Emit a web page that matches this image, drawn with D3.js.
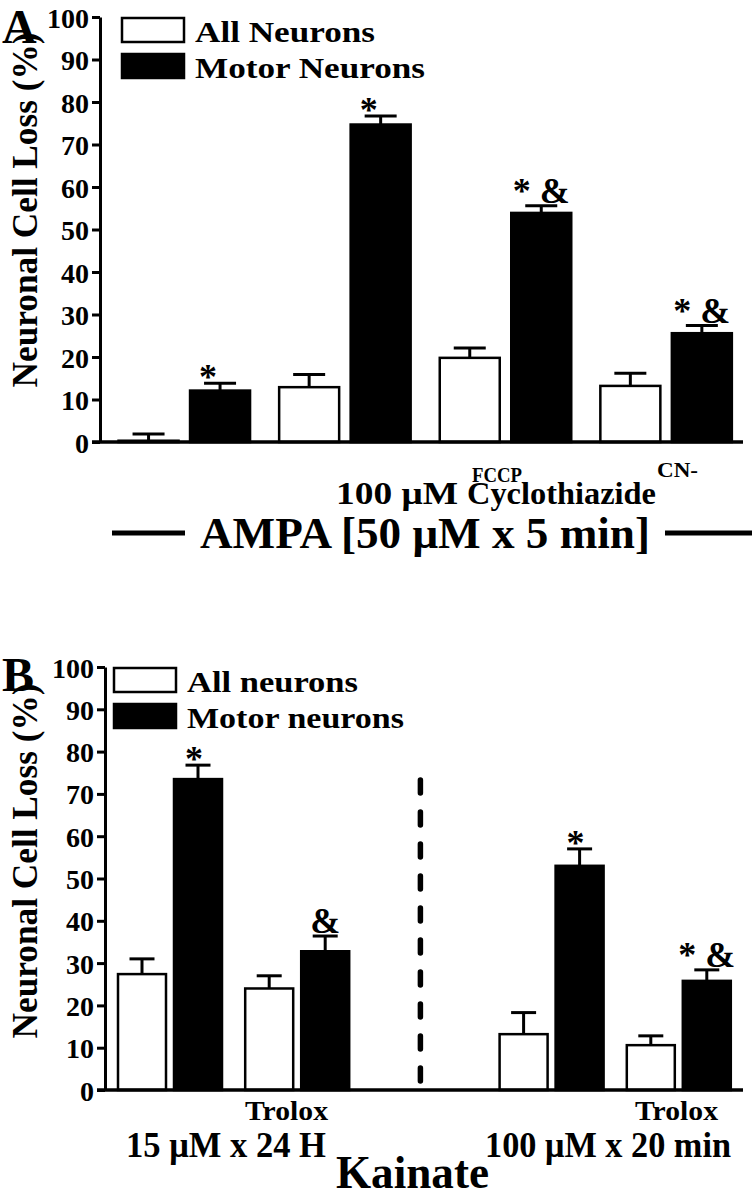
<!DOCTYPE html>
<html>
<head>
<meta charset="utf-8">
<script src="https://cdn.jsdelivr.net/npm/d3@7"></script>
<style>
body { margin: 0; background: #fff; }
svg text { font-family: "Liberation Serif", "Times New Roman", serif; font-weight: bold; fill: #000; }
</style>
</head>
<body>
<div id="chart"></div>
<script>
/* ---------- data, panel A (AMPA) ---------- */
const groupsA = ["AMPA", "AMPA+CTZ", "AMPA+CTZ+FCCP", "AMPA+CTZ+CN-"];
const allA = [0.3, 12.9, 19.8, 13.2];
const allErrA = [1.6, 3.0, 2.3, 3.0];
const motorA = [12.1, 74.7, 53.9, 25.6];
const motorErrA = [1.7, 2.0, 1.7, 1.8];
const allSigA = ["", "", "", ""];
const motorSigA = ["*", "*", "* &", "* &"];

/* ---------- data, panel B (Kainate) ---------- */
const slotsB = ["KA24", "KA24+Trolox", "sep", "KA20", "KA20+Trolox"];
const groupsB = ["KA24", "KA24+Trolox", "KA20", "KA20+Trolox"];
const allB = [27.4, 24.0, 13.2, 10.6];
const allErrB = [3.6, 3.0, 5.1, 2.2];
const motorB = [73.5, 32.8, 53.0, 25.8];
const motorErrB = [3.3, 3.6, 4.0, 2.6];
const allSigB = ["", "", "", ""];
const motorSigB = ["*", "&", "*", "* &"];

const yTicks = [0, 10, 20, 30, 40, 50, 60, 70, 80, 90, 100];
const seriesNames = ["all", "motor"];

const svg = d3.select("#chart")
              .append("svg")
              .attr("width", 752)
              .attr("height", 1199);

function drawPanel(o) {
    const g = svg.append("g");

    const y = d3.scaleLinear().domain([0, 100]).range([o.y0, o.y100]);
    const x = d3.scaleBand().domain(o.slots).range(o.xRange);
    const half = x.bandwidth() / 2;
    const inner = d3.scaleBand()
                    .domain(seriesNames)
                    .range([half - o.off - o.bw / 2, half + o.off + o.bw / 2])
                    .paddingInner(1 - o.bw / (2 * o.off));

    const rows = [];
    o.groups.forEach((grp, i) => {
        rows.push({ grp: grp, s: "all", v: o.all[i], e: o.allErr[i], sig: o.allSig[i] });
        rows.push({ grp: grp, s: "motor", v: o.motor[i], e: o.motorErr[i], sig: o.motorSig[i] });
    });
    const cx = (d) => x(d.grp) + inner(d.s) + inner.bandwidth() / 2;

    /* error bars (stem + cap) */
    g.selectAll(".stem").data(rows).enter().append("line")
     .attr("x1", cx).attr("x2", cx)
     .attr("y1", (d) => y(d.v)).attr("y2", (d) => y(d.v + d.e))
     .attr("stroke", "#000").attr("stroke-width", 3);
    g.selectAll(".cap").data(rows).enter().append("line")
     .attr("x1", (d) => cx(d) - o.capW / 2).attr("x2", (d) => cx(d) + o.capW / 2)
     .attr("y1", (d) => y(d.v + d.e)).attr("y2", (d) => y(d.v + d.e))
     .attr("stroke", "#000").attr("stroke-width", 3);

    /* bars */
    g.selectAll(".bar").data(rows).enter().append("rect")
     .attr("x", (d) => x(d.grp) + inner(d.s))
     .attr("y", (d) => y(d.v))
     .attr("width", inner.bandwidth())
     .attr("height", (d) => Math.max(0, y(0) - y(d.v)))
     .attr("fill", (d) => d.s == "all" ? "#fff" : "#000")
     .attr("stroke", "#000")
     .attr("stroke-width", 2.5);

    /* significance marks */
    g.selectAll(".sig").data(rows.filter((d) => d.sig != "")).enter().append("text")
     .attr("x", (d) => cx(d) + (d.sig == "*" ? o.starDx : 0))
     .attr("y", (d) => y(d.v + d.e) + (d.sig.indexOf("&") >= 0 ? -3 : 6))
     .attr("text-anchor", "middle")
     .style("font-size", "36px")
     .text((d) => d.sig);

    /* y axis */
    const yAxis = d3.axisLeft(y).tickValues(yTicks).tickSize(8).tickSizeOuter(0).tickPadding(3);
    const ax = g.append("g")
                .attr("transform", "translate(" + o.axisX + ",0)")
                .call(yAxis);
    ax.select(".domain").attr("stroke-width", 3);
    ax.selectAll(".tick line").attr("stroke-width", 3);
    ax.selectAll(".tick text")
      .attr("dy", "0.36em")
      .style("font-size", "28px");

    /* baseline */
    g.append("line")
     .attr("x1", o.axisX - 8).attr("x2", 743)
     .attr("y1", y(0)).attr("y2", y(0))
     .attr("stroke", "#000").attr("stroke-width", 3.5);

    /* y title */
    g.append("text")
     .attr("transform", "translate(37," + o.titleY + ") rotate(-90)")
     .attr("text-anchor", "middle")
     .attr("textLength", 355)
     .attr("lengthAdjust", "spacingAndGlyphs")
     .style("font-size", "36px")
     .text("Neuronal Cell Loss (%)");

    /* panel letter */
    g.append("text")
     .attr("x", 2).attr("y", o.letterY)
     .style("font-size", "48px")
     .text(o.letter);

    /* legend */
    o.legend.forEach((lab, i) => {
        g.append("rect")
         .attr("x", o.legX).attr("y", o.legY + i * 36)
         .attr("width", 62).attr("height", 24)
         .attr("fill", i == 0 ? "#fff" : "#000")
         .attr("stroke", "#000").attr("stroke-width", 2.5);
        g.append("text")
         .attr("x", o.legX + 73).attr("y", o.legY + 24 + i * 36)
         .attr("textLength", o.legLen[i])
         .attr("lengthAdjust", "spacingAndGlyphs")
         .style("font-size", "29px")
         .text(lab);
    });

    return { x: x, y: y };
}

function label(txt, x, y, size, len) {
    svg.append("text")
       .attr("x", x).attr("y", y)
       .attr("textLength", len)
       .attr("lengthAdjust", "spacingAndGlyphs")
       .style("font-size", size + "px")
       .text(txt);
}

/* ---------- panel A ---------- */
drawPanel({
    slots: groupsA, groups: groupsA,
    all: allA, allErr: allErrA, allSig: allSigA,
    motor: motorA, motorErr: motorErrA, motorSig: motorSigA,
    y0: 442, y100: 17, xRange: [104, 746.4], off: 35.75, bw: 60, capW: 32,
    starDx: -12, axisX: 100, titleY: 210,
    letter: "A", letterY: 43,
    legend: ["All Neurons", "Motor Neurons"], legLen: [180, 230], legX: 122, legY: 18
});

label("100 \u03bcM", 336, 504, 32, 122);
label("Cyclothiazide", 467, 504, 32, 189);
label("FCCP", 472, 482, 22, 50);
label("CN-", 657, 477, 22, 41);
label("AMPA [50 \u03bcM x 5 min]", 200, 548, 45, 450);
svg.append("line").attr("x1", 112).attr("x2", 185).attr("y1", 533).attr("y2", 533)
   .attr("stroke", "#000").attr("stroke-width", 5);
svg.append("line").attr("x1", 665).attr("x2", 752).attr("y1", 533).attr("y2", 533)
   .attr("stroke", "#000").attr("stroke-width", 5);

/* ---------- panel B ---------- */
const pB = drawPanel({
    slots: slotsB, groups: groupsB,
    all: allB, allErr: allErrB, allSig: allSigB,
    motor: motorB, motorErr: motorErrB, motorSig: motorSigB,
    y0: 1090, y100: 667, xRange: [106.4, 742.4], off: 28, bw: 48, capW: 25,
    starDx: -4, axisX: 105, titleY: 861,
    letter: "B", letterY: 691,
    legend: ["All neurons", "Motor neurons"], legLen: [171, 217], legX: 114, legY: 668
});

/* dashed separator */
const sepX = pB.x("sep") + pB.x.bandwidth() / 2 - 4;
svg.append("line")
   .attr("x1", sepX).attr("x2", sepX)
   .attr("y1", 780).attr("y2", 1085)
   .attr("stroke", "#000").attr("stroke-width", 5.5)
   .attr("stroke-linecap", "round")
   .attr("stroke-dasharray", "13 19");

label("Trolox", 245, 1120, 27, 83);
label("Trolox", 635, 1120, 27, 83);
label("15 \u03bcM x 24 H", 126, 1157, 36, 200);
label("100 \u03bcM x 20 min", 485, 1157, 36, 246);
label("Kainate", 336, 1188, 46, 153);
</script>
</body>
</html>
